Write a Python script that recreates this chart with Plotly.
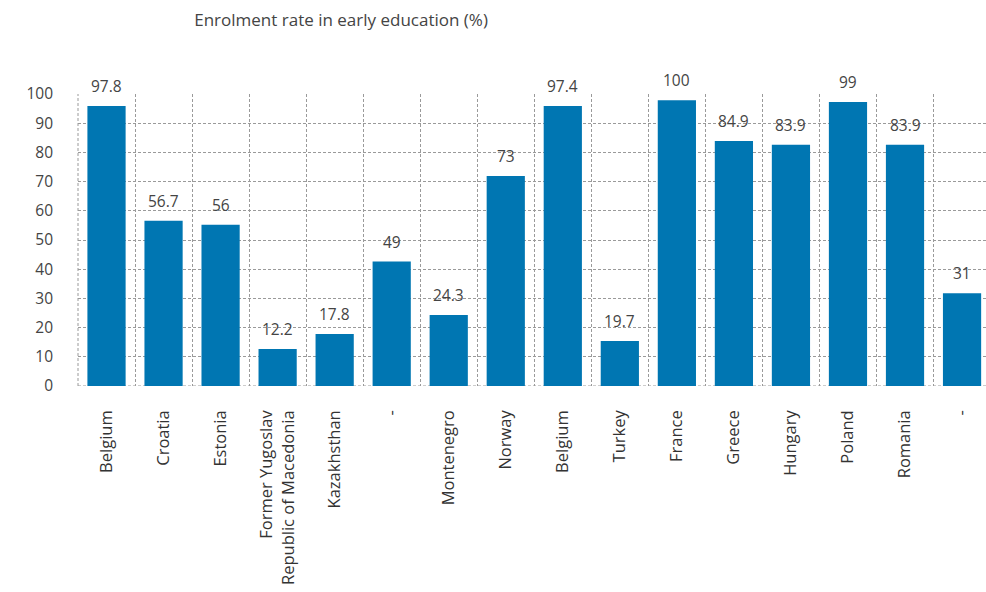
import plotly.graph_objects as go

categories = ["Belgium", "Croatia", "Estonia", "Former Yugoslav<br>Republic of Macedonia",
              "Kazakhsthan", "-", "Montenegro", "Norway", "Belgium", "Turkey",
              "France", "Greece", "Hungary", "Poland", "Romania", "-"]
bar_values = [95.9, 56.6, 55.2, 12.7, 17.8, 42.6, 24.3, 71.9, 95.9, 15.4,
              97.9, 83.9, 82.6, 97.3, 82.6, 31.8]
label_texts = ["97.8", "56.7", "56", "12.2", "17.8", "49", "24.3", "73", "97.4", "19.7",
               "100", "84.9", "83.9", "99", "83.9", "31"]
y_ticks = [0, 10, 20, 30, 40, 50, 60, 70, 80, 90, 100]

keys = [f"c{i}" for i in range(len(categories))]
BLUE = "#0076B2"
GRID = "#9a9a9a"
FONT = "Open Sans"

fig = go.Figure()
fig.add_trace(go.Bar(x=keys, y=bar_values, marker=dict(color=BLUE, line=dict(width=0)),
                     hoverinfo="skip"))

for k, v, t in zip(keys, bar_values, label_texts):
    fig.add_annotation(x=k, y=v, text=t, showarrow=False, yanchor="bottom", yshift=7,
                       font=dict(family=FONT, size=15.5, color="#444444"))

fig.update_layout(
    width=986, height=592,
    margin=dict(l=78, r=0, t=94, b=206),
    plot_bgcolor="white", paper_bgcolor="white",
    bargap=0.33, showlegend=False,
    title=dict(text="Enrolment rate in early education (%)", xref="container", yref="container",
               x=0.197, xanchor="left", y=0.966, yanchor="middle",
               font=dict(family=FONT, size=17, color="#444444")),
    xaxis=dict(type="category", tickmode="array", tickvals=keys, ticktext=categories,
               tickangle=-90, tickson="boundaries", showgrid=True, gridcolor=GRID,
               griddash="3px,2px", gridwidth=1, ticks="", showline=False, zeroline=False,
               range=[-0.5, 15.42], ticklabelstandoff=20,
               tickfont=dict(family=FONT, size=16.5, color="#333333")),
    yaxis=dict(range=[0, 100], tickvals=y_ticks, showgrid=True, gridcolor=GRID,
               griddash="3px,2px", gridwidth=1, zeroline=False, showline=False,
               ticks="", ticklabelstandoff=24,
               tickfont=dict(family=FONT, size=15.5, color="#444444")),
)
fig.add_shape(type="line", xref="paper", yref="y", x0=0, x1=1, y0=0, y1=0,
              line=dict(color=GRID, width=1, dash="3px,2px"), layer="below")
fig.add_shape(type="line", xref="paper", yref="paper", x0=0, x1=0, y0=0, y1=1,
              line=dict(color=GRID, width=1, dash="3px,2px"), layer="below")

fig.write_html("out.html")
